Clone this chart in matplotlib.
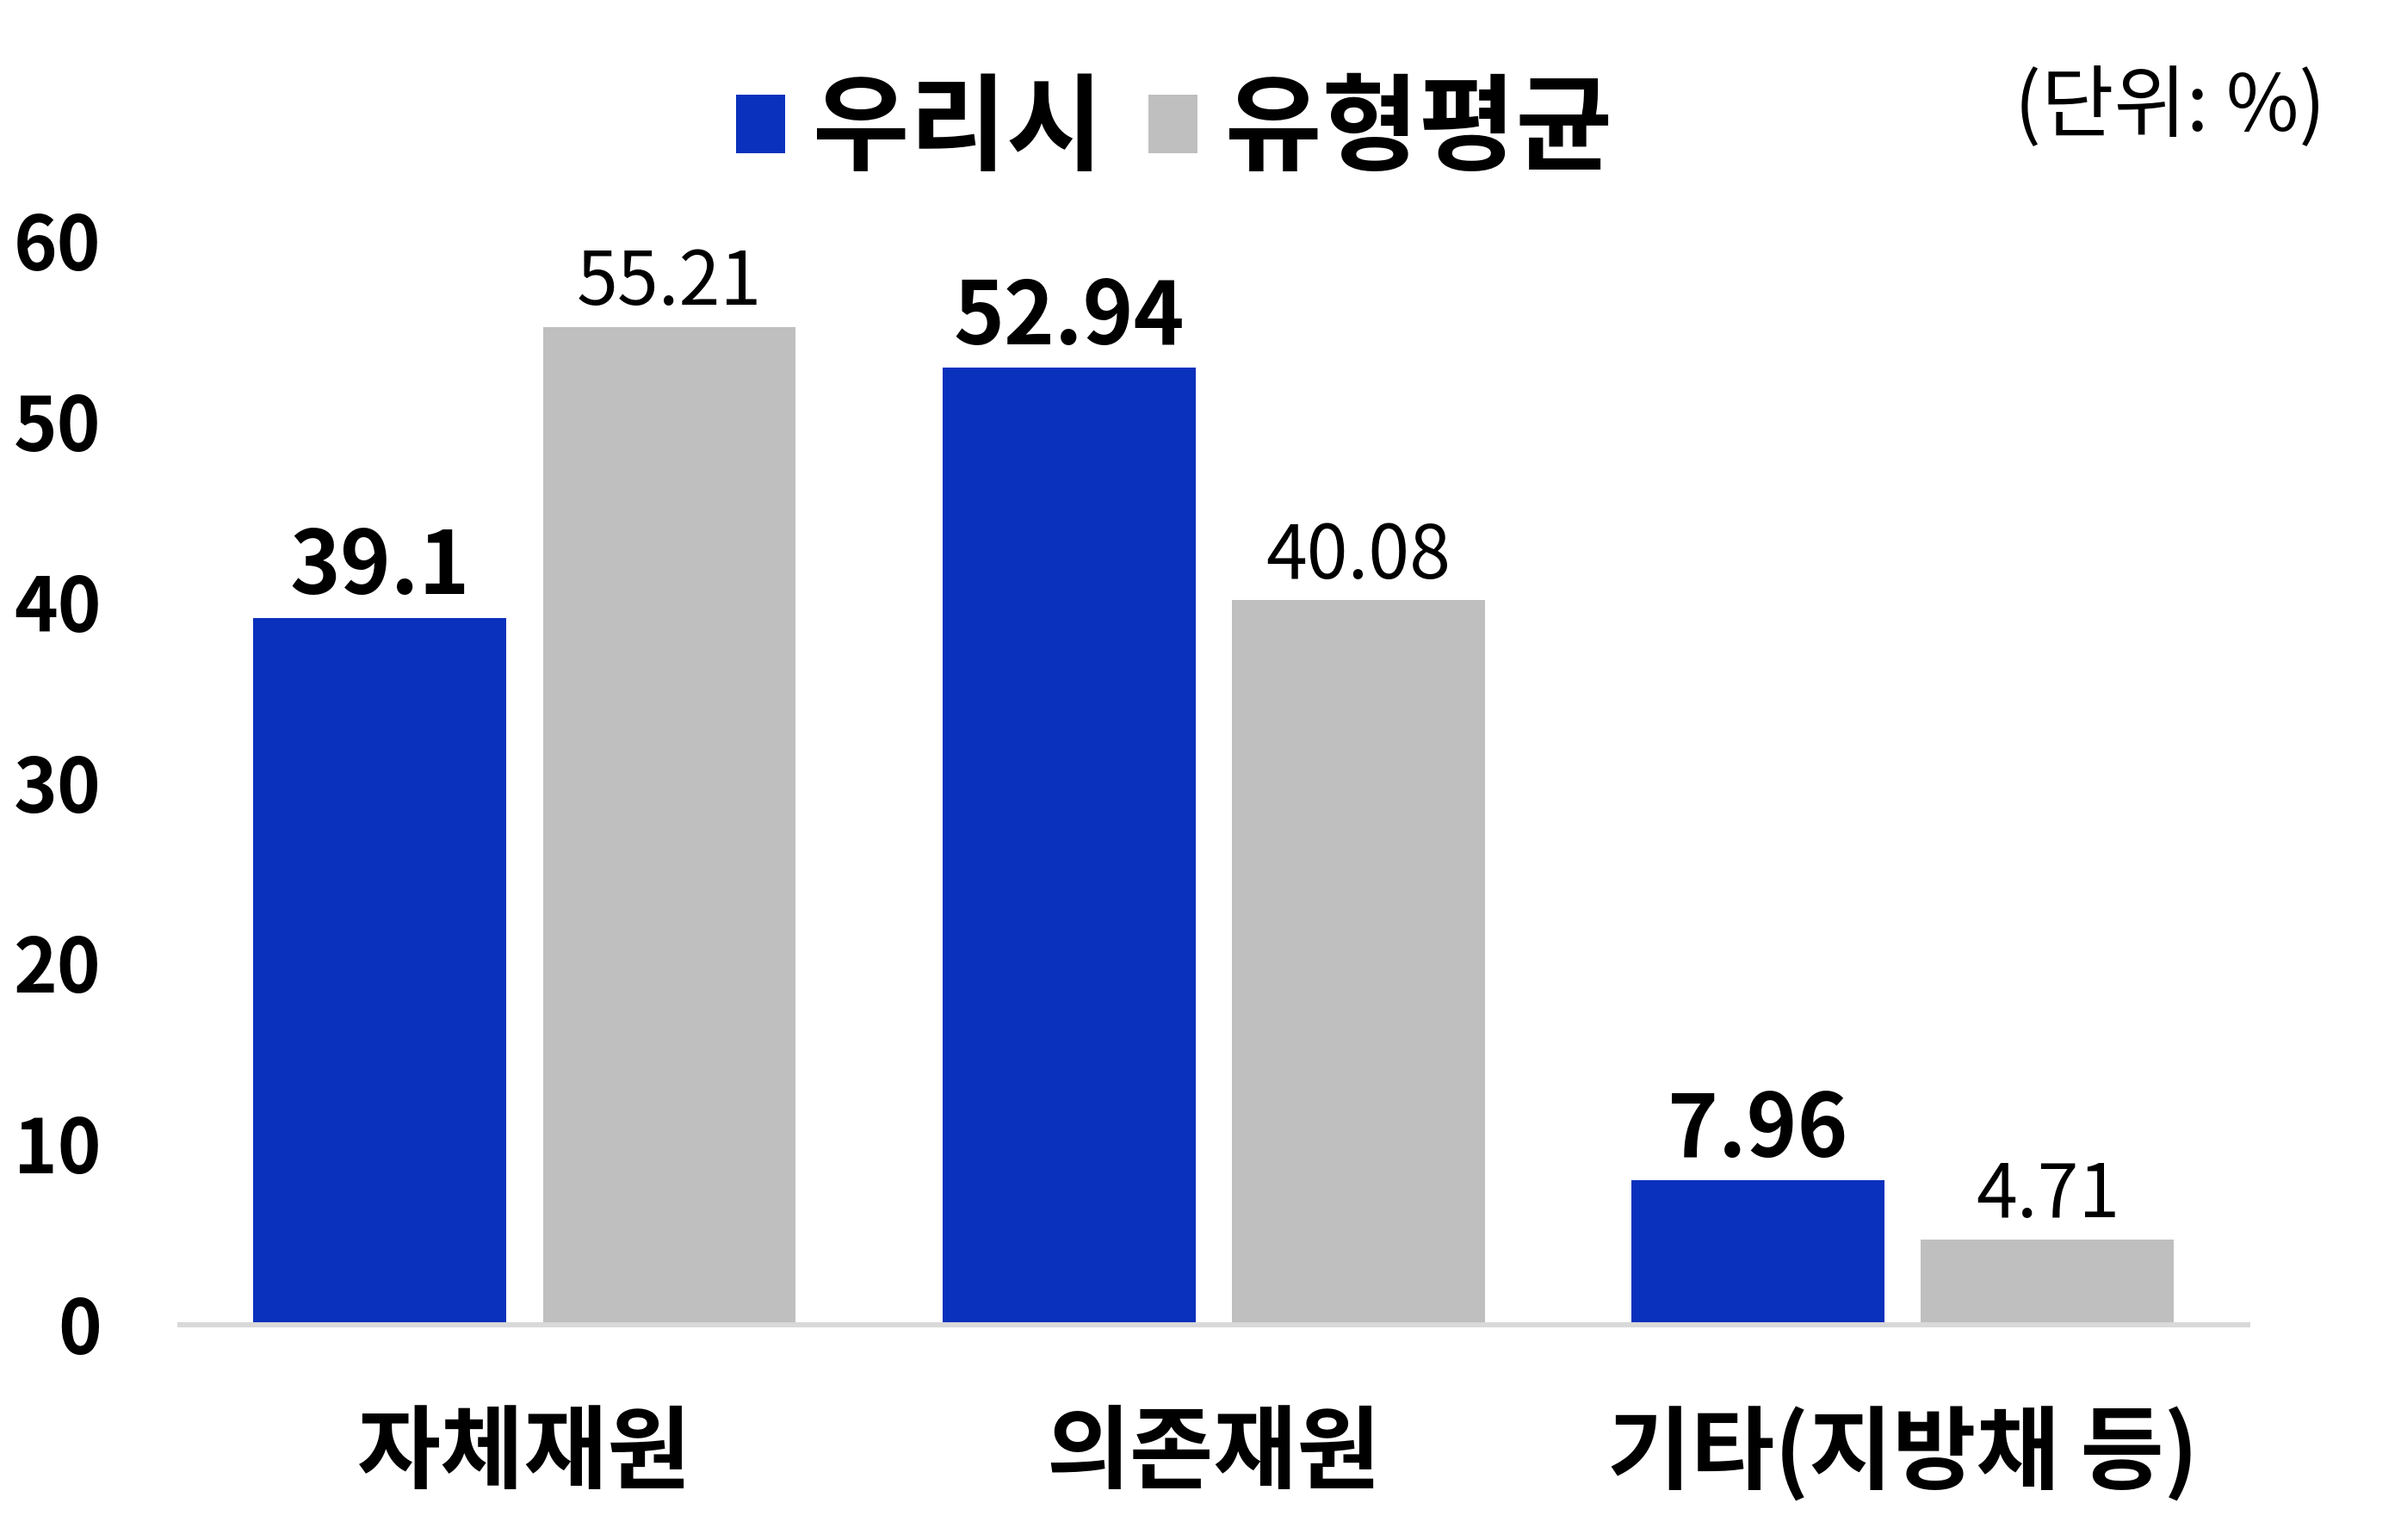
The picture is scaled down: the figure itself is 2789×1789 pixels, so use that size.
import numpy as np
import matplotlib.pyplot as plt

plt.rcParams['font.family'] = ['Noto Sans CJK KR', 'DejaVu Sans']

categories = ['자체재원', '의존재원', '기타(지방채 등)']
series_names = ['우리시', '유형평균']
ours = [39.1, 52.94, 7.96]
avg = [55.21, 40.08, 4.71]
ours_labels = ['39.1', '52.94', '7.96']
avg_labels = ['55.21', '40.08', '4.71']
yticks = [0, 10, 20, 30, 40, 50, 60]

blue = '#0A31BD'
gray = '#BFBFBF'

fig = plt.figure(figsize=(27.89, 17.89), dpi=100)
ax = fig.add_axes([0.075, 0.14, 0.861, 0.704])

x = np.arange(len(categories))
w = 0.367
off = 0.21
b1 = ax.bar(x - off, ours, w, color=blue, label=series_names[0])
b2 = ax.bar(x + off, avg, w, color=gray, label=series_names[1])

for rect, lab in zip(b1, ours_labels):
    ax.annotate(lab, (rect.get_x() + rect.get_width() / 2, rect.get_height()),
                xytext=(0, 4), textcoords='offset points', ha='center', va='bottom',
                fontsize=72, fontweight='bold')
for rect, lab in zip(b2, avg_labels):
    ax.annotate(lab, (rect.get_x() + rect.get_width() / 2, rect.get_height()),
                xytext=(0, 4), textcoords='offset points', ha='center', va='bottom',
                fontsize=62)

ax.set_xlim(-0.5, 2.5)
ax.set_ylim(0, 60)
ax.set_yticks(yticks)
ax.set_yticklabels([str(v) for v in yticks], fontsize=62, fontweight='bold')
ax.set_xticks(x)
ax.set_xticklabels(categories, fontsize=76, fontweight='bold')
ax.tick_params(axis='y', length=0, pad=66)
ax.tick_params(axis='x', length=0, pad=70)

for s in ['top', 'right', 'left']:
    ax.spines[s].set_visible(False)
ax.spines['bottom'].set_color('#D9D9D9')
ax.spines['bottom'].set_linewidth(4.3)

fig.legend(loc='center', bbox_to_anchor=(0.489, 0.915), ncol=2, frameon=False,
           prop={'size': 88, 'weight': 'bold'}, handlelength=0.47, handleheight=0.47,
           handletextpad=0.26, columnspacing=0.43)

fig.text(0.9686, 0.93, '(단위: %)', ha='right', va='center', fontsize=66)

fig.savefig('out.png', dpi=100)
